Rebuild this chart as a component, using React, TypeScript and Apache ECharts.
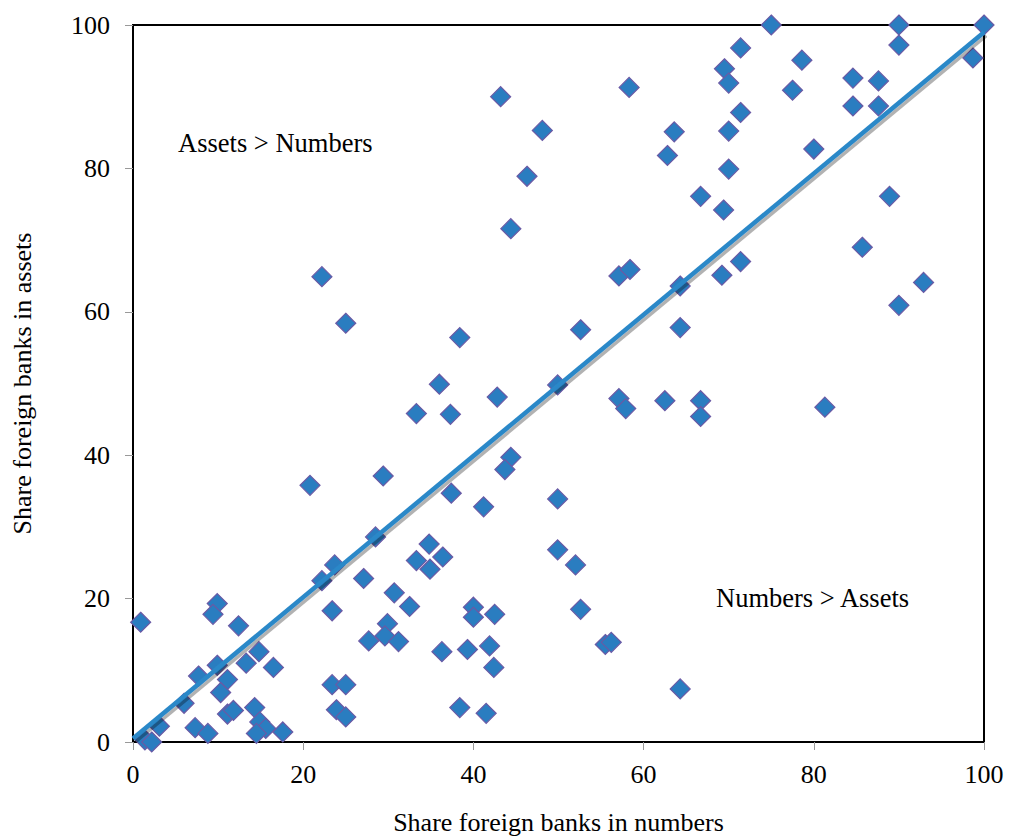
import React, { useEffect, useRef } from "react";
import * as echarts from "echarts";

const shareNumbers: number[] = [
  75.0, 90.0, 100, 90.0, 71.4, 78.6, 98.7, 69.5, 70.0, 58.3,
  84.6, 87.6, 77.5, 84.6, 87.6, 71.4, 48.1, 63.6, 70.0, 62.8,
  80.0, 70.0, 66.7, 69.4, 88.9, 85.7, 57.1, 58.4, 64.3, 69.2,
  71.4, 92.9, 90.0, 52.6, 64.3, 43.2, 46.3, 44.4, 22.2, 25.0,
  38.4, 36.0, 33.3, 37.3, 42.8, 49.9, 44.4, 43.7, 49.9, 49.9,
  20.8, 29.4, 37.4, 41.2, 28.5, 34.8, 33.3, 36.4, 34.9, 23.7,
  22.2, 27.1, 23.4, 30.7, 32.5, 29.9, 29.6, 27.7, 31.2, 40.0,
  40.0, 42.5, 36.3, 39.3, 41.9, 42.4, 38.4, 41.5, 0.9, 9.9,
  9.4, 12.4, 14.8, 13.3, 16.5, 9.9, 7.7, 11.1, 10.3, 6.0,
  3.1, 7.3, 8.8, 11.1, 11.8, 14.3, 14.9, 15.6, 14.5, 17.6,
  1.4, 2.2, 23.4, 25.0, 23.9, 25.0, 57.1, 57.9, 62.5, 66.7,
  66.7, 81.3, 52.0, 52.6, 55.5, 56.2, 64.3,
];

const shareAssets: number[] = [
  100, 100, 100, 97.2, 96.8, 95.1, 95.4, 93.9, 91.9, 91.3,
  92.6, 92.2, 90.9, 88.7, 88.7, 87.8, 85.3, 85.1, 85.2, 81.8,
  82.7, 79.9, 76.1, 74.2, 76.1, 69.0, 65.0, 65.9, 63.6, 65.1,
  67.0, 64.1, 60.9, 57.5, 57.8, 90.0, 78.9, 71.6, 64.9, 58.4,
  56.4, 49.9, 45.8, 45.7, 48.1, 49.8, 39.7, 38.0, 33.9, 26.8,
  35.8, 37.1, 34.7, 32.8, 28.6, 27.6, 25.3, 25.8, 24.1, 24.7,
  22.5, 22.8, 18.3, 20.8, 18.9, 16.5, 14.8, 14.1, 14.0, 18.8,
  17.4, 17.8, 12.6, 12.9, 13.4, 10.4, 4.8, 4.0, 16.7, 19.3,
  17.8, 16.2, 12.6, 11.0, 10.4, 10.7, 9.2, 8.7, 6.9, 5.4,
  2.2, 2.0, 1.2, 3.9, 4.4, 4.8, 2.8, 1.9, 1.2, 1.4,
  0.3, 0.0, 8.0, 8.0, 4.5, 3.5, 47.9, 46.5, 47.6, 47.6,
  45.4, 46.7, 24.7, 18.5, 13.6, 13.9, 7.4,
];

const trendX: number[] = [0, 100];
const trendY: number[] = [0.5, 99];

const xAxisTitle = "Share foreign banks in numbers";
const yAxisTitle = "Share foreign banks in assets";
const noteUpper = "Assets > Numbers";
const noteLower = "Numbers > Assets";

const FONT = "'Liberation Serif', 'Times New Roman', serif";

export default function App() {
  const ref = useRef<HTMLDivElement>(null);

  useEffect(() => {
    if (!ref.current) return;
    const chart = echarts.init(ref.current, null, { renderer: "svg" });
    const points = shareNumbers.map((x, i) => [x, shareAssets[i]]);
    const trend = trendX.map((x, i) => [x, trendY[i]]);

    const axisCommon = {
      type: "value" as const,
      min: 0,
      max: 100,
      interval: 20,
      splitLine: { show: false },
      axisLine: { show: true, lineStyle: { color: "#000", width: 2 } },
      axisTick: { show: true, length: 8, lineStyle: { color: "#999", width: 1 } },
      nameLocation: "middle" as const,
      nameTextStyle: { fontFamily: FONT, fontSize: 26, color: "#000" },
    };

    chart.setOption({
      animation: false,
      backgroundColor: "#fff",
      grid: {
        left: 133,
        right: 25,
        top: 25,
        bottom: 98,
        show: true,
        borderColor: "#000",
        borderWidth: 2,
        backgroundColor: "transparent",
      },
      xAxis: {
        ...axisCommon,
        name: xAxisTitle,
        nameGap: 67,
        axisLabel: { fontFamily: FONT, fontSize: 26, color: "#000", margin: 19 },
      },
      yAxis: {
        ...axisCommon,
        name: yAxisTitle,
        nameGap: 98,
        axisLabel: { fontFamily: FONT, fontSize: 26, color: "#000", margin: 23 },
      },
      graphic: [
        {
          type: "text",
          left: 178,
          top: 129,
          style: { text: noteUpper, font: `26.5px ${FONT}`, fill: "#000" },
        },
        {
          type: "text",
          left: 716,
          top: 584,
          style: { text: noteLower, font: `26.5px ${FONT}`, fill: "#000" },
        },
      ],
      series: [
        {
          type: "scatter",
          data: points,
          symbol: "diamond",
          symbolSize: 20,
          itemStyle: { color: "#2a7dc0", borderColor: "#6a5aa5", borderWidth: 1.2, opacity: 1 },
          z: 2,
        },
        {
          type: "line",
          data: trend,
          symbol: "none",
          lineStyle: {
            color: "#2b88c8",
            width: 4.5,
            shadowColor: "rgba(0,0,0,0.3)",
            shadowOffsetX: 2,
            shadowOffsetY: 3,
            shadowBlur: 1,
          },
          z: 3,
        },
      ],
    });
    return () => chart.dispose();
  }, []);

  return (
    <div
      ref={ref}
      style={{ position: "fixed", left: 0, top: 0, width: 1009, height: 840, background: "#fff" }}
    />
  );
}
